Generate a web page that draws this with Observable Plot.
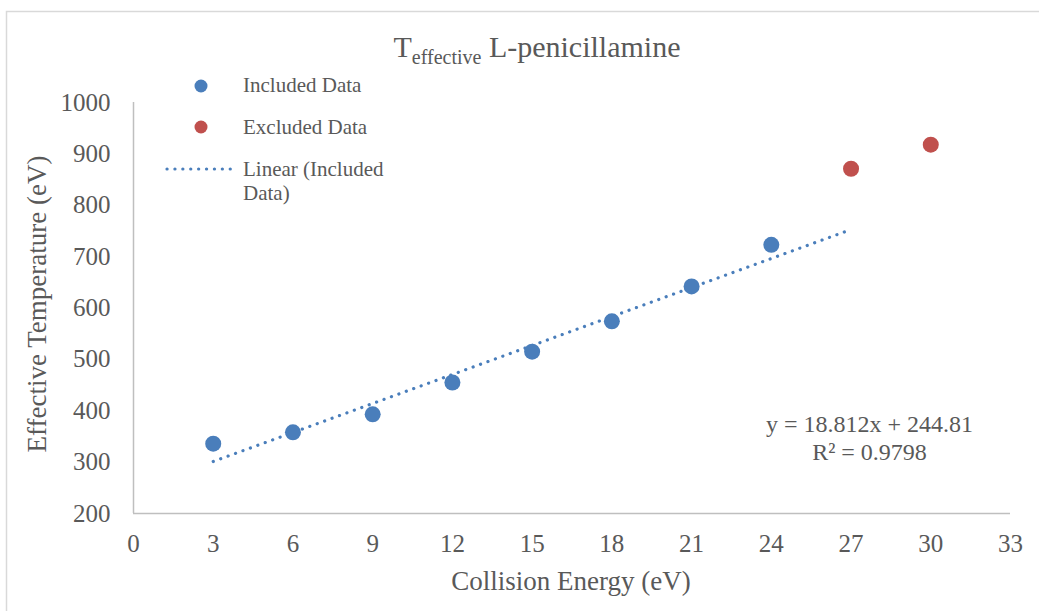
<!DOCTYPE html>
<html><head><meta charset="utf-8">
<script src="https://cdn.jsdelivr.net/npm/d3@7"></script>
<script src="https://cdn.jsdelivr.net/npm/@observablehq/plot@0.6"></script>
<style>body{margin:0;background:#fff} #chart{position:relative;width:1039px;height:611px;overflow:hidden}</style>
</head><body><div id="chart"></div>
<script>
const includedX = [3, 6, 9, 12, 15, 18, 21, 24];
const includedY = [336, 358, 393, 455, 515, 574, 642, 723];
const excludedX = [27, 30];
const excludedY = [871, 918];
const trendSlope = 18.812;
const trendIntercept = 244.81;
const trendX = [3, 27];
const xTicks = [0, 3, 6, 9, 12, 15, 18, 21, 24, 27, 30, 33];
const yTicks = [200, 300, 400, 500, 600, 700, 800, 900, 1000];
const legendLabels = ["Included Data", "Excluded Data", "Linear (Included", "Data)"];
const equationText = ["y = 18.812x + 244.81", "R² = 0.9798"];

const blue = "#4a7ebb", red = "#c0504d", txt = "#595959", axisCol = "#bfbfbf";
const FONT = "'Liberation Serif', 'Times New Roman', serif";

const included = includedX.map((x, i) => ({x, y: includedY[i]}));
const excluded = excludedX.map((x, i) => ({x, y: excludedY[i]}));
const trend = trendX.map(x => ({x, y: trendSlope * x + trendIntercept}));

const plot = Plot.plot({
  width: 1039, height: 611,
  marginLeft: 133, marginRight: 29, marginTop: 102, marginBottom: 98,
  x: {domain: [0, 33]},
  y: {domain: [200, 1000]},
  style: {fontFamily: FONT, background: "white", overflow: "visible"},
  marks: [
    Plot.ruleX([0], {stroke: axisCol, strokeWidth: 1.5}),
    Plot.ruleY([200], {stroke: axisCol, strokeWidth: 1.5}),
    Plot.axisX(xTicks, {tickSize: 0, tickPadding: 21, fontSize: 25, color: txt, label: null, tickFormat: d => String(d)}),
    Plot.axisY(yTicks, {tickSize: 0, tickPadding: 23, fontSize: 25, color: txt, label: null, tickFormat: d => String(d)}),
    Plot.line(trend, {x: "x", y: "y", stroke: blue, strokeWidth: 3.2, strokeDasharray: "0.1,7.8", strokeLinecap: "round"}),
    Plot.dot(included, {x: "x", y: "y", r: 8, fill: blue}),
    Plot.dot(excluded, {x: "x", y: "y", r: 8, fill: red}),
    Plot.text([equationText[0]], {frameAnchor: "top-left", dx: 869 - 133, dy: 424 - 102, text: d => d, fontSize: 24, fill: txt, textAnchor: "middle", lineAnchor: "middle"}),
    Plot.text([equationText[1]], {frameAnchor: "top-left", dx: 869 - 133, dy: 452 - 102, text: d => d, fontSize: 24, fill: txt, textAnchor: "middle", lineAnchor: "middle"})
  ]
});
document.getElementById("chart").appendChild(plot);

const svg = d3.select(plot);
svg.append("rect").attr("x", 6.5).attr("y", 11.5).attr("width", 1100).attr("height", 700)
  .attr("fill", "none").attr("stroke", "#d9d9d9").attr("stroke-width", 1.5);

// Title
const title = svg.append("text").attr("x", 537).attr("y", 57).attr("text-anchor", "middle")
  .attr("fill", txt).style("font-family", FONT).style("font-size", "30px");
title.append("tspan").text("T");
title.append("tspan").attr("dy", 7).style("font-size", "20px").text("effective");
title.append("tspan").attr("dy", -7).text(" L-penicillamine");

// Axis titles
svg.append("text").attr("x", 571).attr("y", 590).attr("text-anchor", "middle")
  .attr("fill", txt).style("font-family", FONT).style("font-size", "27px").text("Collision Energy (eV)");
svg.append("text").attr("transform", "translate(46,304) rotate(-90)").attr("text-anchor", "middle")
  .attr("fill", txt).style("font-family", FONT).style("font-size", "27px").text("Effective Temperature (eV)");

// Legend
svg.append("circle").attr("cx", 201).attr("cy", 86).attr("r", 6.5).attr("fill", blue);
svg.append("circle").attr("cx", 201).attr("cy", 127).attr("r", 6.5).attr("fill", red);
svg.append("line").attr("x1", 167).attr("x2", 236).attr("y1", 169).attr("y2", 169)
  .attr("stroke", blue).attr("stroke-width", 3.2).attr("stroke-dasharray", "0.1,7.8").attr("stroke-linecap", "round");
const ly = [85, 127, 169, 193];
legendLabels.forEach((t, i) => {
  svg.append("text").attr("x", 243).attr("y", ly[i]).attr("dy", "0.35em").attr("text-anchor", "start")
    .attr("fill", txt).style("font-family", FONT).style("font-size", "21px").text(t);
});
</script>
</body></html>
